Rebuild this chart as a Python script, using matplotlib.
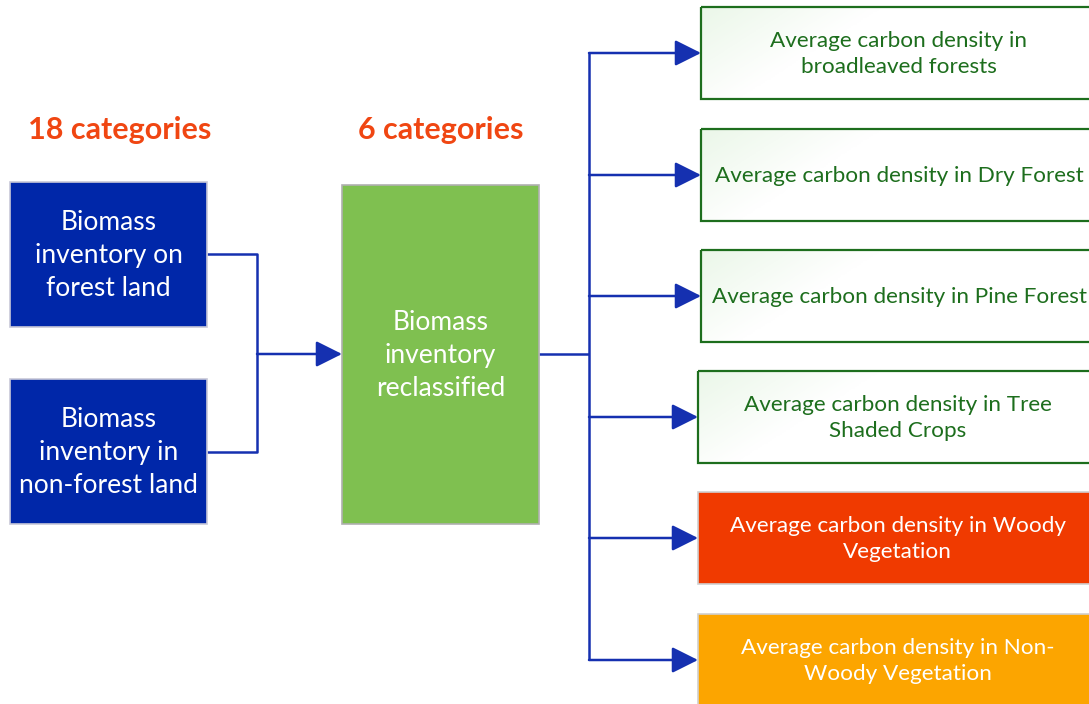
import matplotlib
matplotlib.use('Agg')
import matplotlib.pyplot as plt
from matplotlib.patches import Rectangle, FancyArrowPatch
import numpy as np

# ===== DIAGRAM CONTENT =====
HEADERS = ["18 categories", "6 categories"]
INPUT_LABELS = ["Biomass\ninventory on\nforest land",
                "Biomass\ninventory in\nnon-forest land"]
MIDDLE_LABEL = "Biomass\ninventory\nreclassified"
OUTPUT_LABELS = ["Average carbon density in\nbroadleaved forests",
                 "Average carbon density in Dry Forest",
                 "Average carbon density in Pine Forest",
                 "Average carbon density in Tree\nShaded Crops",
                 "Average carbon density in Woody\nVegetation",
                 "Average carbon density in Non-\nWoody Vegetation"]
OUTPUT_STYLE = ["outline", "outline", "outline", "outline", "red", "orange"]
# ===== END CONTENT =====

W, H = 1089, 704
BLUE = '#0027a9'
LINE = '#1530b0'
GREEN = '#7fc050'
DARKGREEN = '#1d6e1d'
RED = '#f03a00'
ORANGE = '#fca500'
HEAD = '#f04612'
FONT = 'Lato'

fig = plt.figure(figsize=(W / 100, H / 100), dpi=100)
ax = fig.add_axes([0, 0, 1, 1])
ax.set_xlim(0, W)
ax.set_ylim(H, 0)
ax.axis('off')


def box(x0, y0, x1, y1, fc, ec, text, tc, size=19, lw=1.2):
    ax.add_patch(Rectangle((x0, y0), x1 - x0, y1 - y0, facecolor=fc, edgecolor=ec, lw=lw, zorder=2))
    ax.text((x0 + x1) / 2, (y0 + y1) / 2 + 1, text, ha='center', va='center', color=tc,
            fontsize=size, family=FONT, linespacing=1.4, zorder=4)


def gradient_box(x0, y0, x1, y1):
    # faint green shading in the top-left corner of the outlined boxes
    gx, gy = np.meshgrid(np.linspace(0, 1, 200), np.linspace(0, 1, 60))
    d = np.clip(1 - (gx * 2.2 + gy * 0.8), 0, 1)
    img = np.ones((60, 200, 3))
    tint = np.array([0.90, 0.96, 0.89])
    img = img * (1 - d[..., None] * 0.8) + tint * d[..., None] * 0.8
    im = ax.imshow(img, extent=(x0, x1, y1, y0), zorder=2, aspect='auto')
    rect = Rectangle((x0, y0), x1 - x0, y1 - y0, facecolor='none', edgecolor=DARKGREEN, lw=1.6, zorder=3)
    ax.add_patch(rect)
    im.set_clip_path(rect)


def arrow(x0, y, x1):
    ax.add_patch(FancyArrowPatch((x0, y), (x1, y), arrowstyle='-|>,head_length=1.0,head_width=0.5',
                                 mutation_scale=16, color=LINE, lw=1.8, shrinkA=0, shrinkB=0, zorder=3))


def seg(xs, ys):
    ax.plot(xs, ys, color=LINE, lw=1.8, zorder=1, solid_capstyle='butt')


# headers
ax.text(120, 130, HEADERS[0], ha='center', va='center', color=HEAD, fontsize=22,
        fontweight='bold', family=FONT)
ax.text(441, 130, HEADERS[1], ha='center', va='center', color=HEAD, fontsize=22,
        fontweight='bold', family=FONT)

# input boxes
in_boxes = [(10, 182, 207, 327), (10, 379, 207, 524)]
for (x0, y0, x1, y1), lab in zip(in_boxes, INPUT_LABELS):
    box(x0, y0, x1, y1, BLUE, '#c8c8d8', lab, 'white')

# merge connector
seg([207, 257, 257, 207], [254, 254, 452, 452])
arrow(257, 354, 342)

# middle box
box(342, 185, 539, 524, GREEN, '#b0b0b0', MIDDLE_LABEL, 'white')

# split connector
out_y = [53, 175, 296, 417, 538, 660]
out_x0 = [701, 701, 701, 698, 698, 698]
seg([539, 589], [354, 354])
seg([589, 589], [out_y[0], out_y[-1]])

for i, (lab, style) in enumerate(zip(OUTPUT_LABELS, OUTPUT_STYLE)):
    y = out_y[i]
    x0 = out_x0[i]
    arrow(589, y, x0)
    y0, y1 = y - 46, y + 46
    if style == 'outline':
        gradient_box(x0, y0, W + 5, y1)
        ax.text((x0 + W) / 2 + 4, y + 1, lab, ha='center', va='center', color=DARKGREEN,
                fontsize=16.2, family=FONT, linespacing=1.39, zorder=4)
    else:
        fc = RED if style == 'red' else ORANGE
        box(x0, y0, W + 5, y1 + (0 if i < 5 else 10), fc, '#d0d0d0', '', 'white')
        ax.text((x0 + W) / 2 + 4, y + 1, lab, ha='center', va='center', color='white',
                fontsize=16.2, family=FONT, linespacing=1.39, zorder=4)

plt.savefig('out.png', dpi=100)
